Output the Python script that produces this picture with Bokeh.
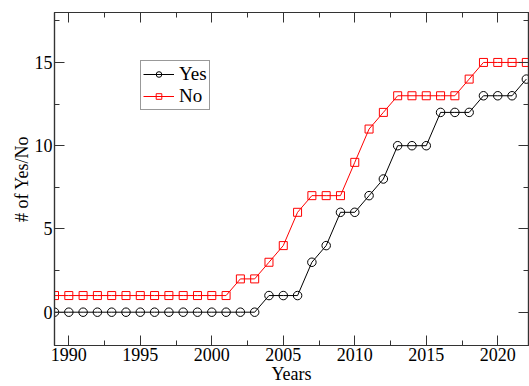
from bokeh.plotting import figure
from bokeh.models import FixedTicker, LinearAxis, Legend, LegendItem, Range1d
from bokeh.embed import file_html
from bokeh.resources import INLINE

years = [1989, 1990, 1991, 1992, 1993, 1994, 1995, 1996, 1997, 1998, 1999, 2000,
         2001, 2002, 2003, 2004, 2005, 2006, 2007, 2008, 2009, 2010, 2011, 2012,
         2013, 2014, 2015, 2016, 2017, 2018, 2019, 2020, 2021, 2022]
yes = [0, 0, 0, 0, 0, 0, 0, 0, 0, 0, 0, 0, 0, 0, 0,
       1, 1, 1, 3, 4, 6, 6, 7, 8, 10, 10, 10, 12, 12, 12, 13, 13, 13, 14]
no = [1, 1, 1, 1, 1, 1, 1, 1, 1, 1, 1, 1, 1,
      2, 2, 3, 4, 6, 7, 7, 7, 9, 11, 12, 13, 13, 13, 13, 13, 14, 15, 15, 15, 15]

x_major = [1990, 1995, 2000, 2005, 2010, 2015, 2020]
x_minor = [1992.5, 1997.5, 2002.5, 2007.5, 2012.5, 2017.5]
y_major = [0, 5, 10, 15]
y_minor = [2.5, 7.5, 12.5, 17.5]

FONT = "Liberation Serif"

p = figure(width=529, height=386, output_backend="svg", toolbar_location=None,
           x_range=Range1d(1989, 2022.15), y_range=Range1d(-2, 18),
           min_border_left=54, min_border_top=12, min_border_right=1, min_border_bottom=41)
p.grid.visible = False
p.outline_line_color = "#333333"
p.outline_line_width = 1.2
p.background_fill_color = "white"

line_yes = p.line(years, yes, line_color="black", line_width=1)
sc_yes = p.scatter(years, yes, marker="circle", size=8.5, fill_color=None,
                   line_color="black", line_width=1)
line_no = p.line(years, no, line_color="#ff0000", line_width=1)
sc_no = p.scatter(years, no, marker="square", size=8, fill_color=None,
                  line_color="#ff0000", line_width=1)


def style(ax, ticks, minor, labels=True):
    ax.ticker = FixedTicker(ticks=ticks, minor_ticks=minor)
    ax.major_tick_in = 10
    ax.major_tick_out = 0
    ax.minor_tick_in = 5
    ax.minor_tick_out = 0
    ax.axis_line_color = "#333333"
    ax.axis_line_width = 1.2
    ax.major_tick_line_color = "#333333"
    ax.minor_tick_line_color = "#333333"
    ax.major_label_text_font = FONT
    ax.axis_label_text_font = FONT
    ax.axis_label_text_font_style = "normal"
    ax.axis_label_text_color = "black"
    ax.axis_label_text_font_size = "18px"
    if labels:
        ax.major_label_text_color = "black"
        ax.major_label_text_font_size = "18px"
        ax.major_label_standoff = 2
        ax.axis_label_standoff = 0
    else:
        ax.major_label_text_color = None
        ax.major_label_text_font_size = "1px"
        ax.major_label_standoff = 0


style(p.xaxis[0], x_major, x_minor)
style(p.yaxis[0], y_major, y_minor)
p.xaxis[0].axis_label = "Years"
p.yaxis[0].axis_label = "# of Yes/No"
p.yaxis[0].major_label_orientation = "horizontal"

top = LinearAxis()
style(top, x_major, x_minor, labels=False)
p.add_layout(top, "above")
right = LinearAxis()
style(right, y_major, y_minor, labels=False)
p.add_layout(right, "right")

legend = Legend(items=[LegendItem(label="Yes", renderers=[line_yes, sc_yes]),
                       LegendItem(label="No", renderers=[line_no, sc_no])],
                location=(86, 235))
legend.label_text_font = FONT
legend.label_text_font_size = "19px"
legend.label_text_color = "black"
legend.label_height = 14
legend.glyph_height = 14
legend.glyph_width = 31
legend.label_standoff = 5
legend.spacing = 0
legend.padding = 2
legend.margin = 0
legend.border_line_color = "#333333"
legend.border_line_width = 1.2
legend.background_fill_alpha = 1
p.add_layout(legend, "center")

open("out.html", "w").write(file_html(p, INLINE))
